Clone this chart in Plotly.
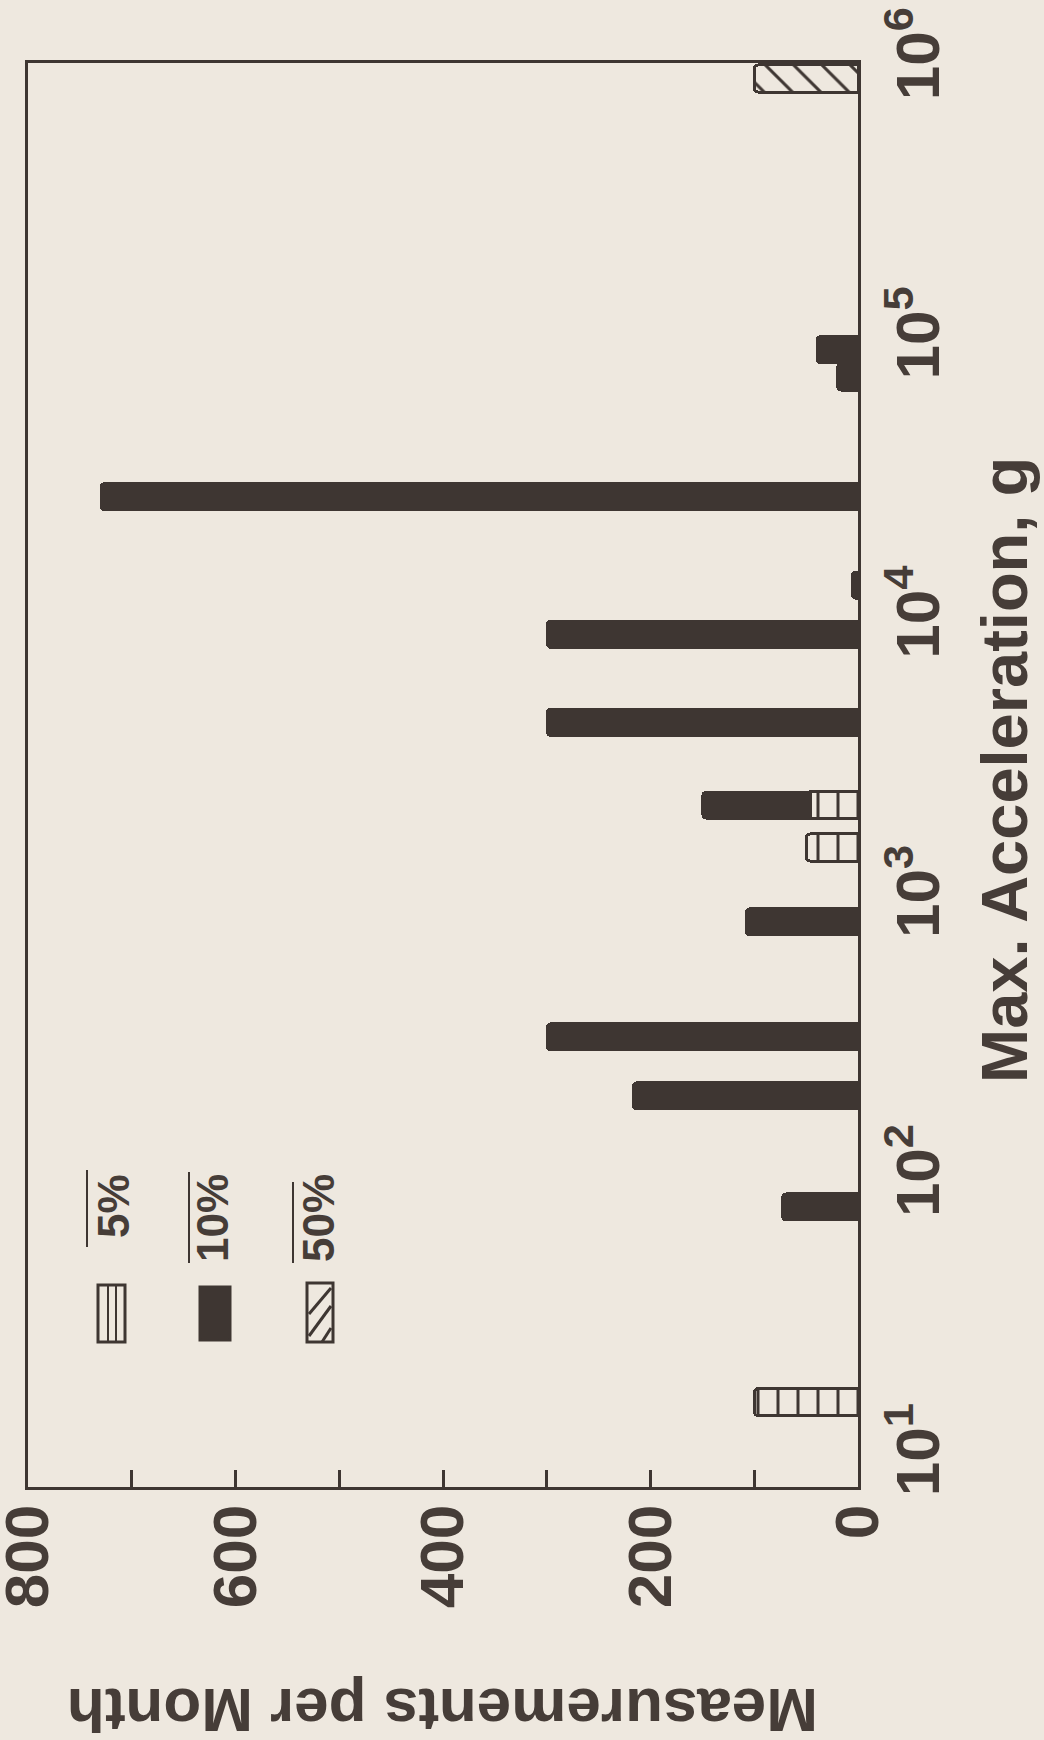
import numpy as np
import plotly.graph_objects as go

# ---- data ----
accel_5pct = [16, 1550, 2200]
count_5pct = [100, 50, 46]

accel_10pct = [80, 200, 325, 840, 2200, 4350, 9000, 13500, 28000, 75000, 94000]
count_10pct = [73, 217, 300, 108, 104, 300, 300, 6, 730, 20, 40]

accel_50pct = [880000]
count_50pct = [100]

decades = [1, 2, 3, 4, 5, 6]
decade_labels = ["10<sup>%d</sup>" % d for d in decades]
count_ticks = [0, 200, 400, 600, 800]
count_labels = ["0", "200", "400", "600", "800"]
count_minor = [100, 300, 500, 700]

legend_labels = ["5%", "10%", "50%"]

# ---- style ----
BG = "#EEE8DF"
DARK = "#3E3632"
TXT = "#463D38"
FONT = "Liberation Sans, Arial, sans-serif"
W, H = 1044, 1740
PL, PR, PT, PB = 28, 858, 63, 1487  # plot area in pixels


def px_x(px):
    return (px - PL) / (PR - PL)


def px_y(py):
    return (PB - py) / (PB - PT)


BAR_W = 0.097

fig = go.Figure()
fig.add_trace(go.Bar(
    y=np.log10(accel_5pct), x=count_5pct, orientation="h", width=BAR_W,
    marker=dict(color=BG, line=dict(color=DARK, width=3), cornerradius=4,
                pattern=dict(shape="|", size=20, solidity=0.15, fgcolor=DARK,
                             bgcolor=BG, fillmode="replace")),
    hoverinfo="skip", name="5%"))
fig.add_trace(go.Bar(
    y=np.log10(accel_10pct), x=count_10pct, orientation="h", width=BAR_W,
    marker=dict(color=DARK, line=dict(color=DARK, width=2), cornerradius=4),
    hoverinfo="skip", name="10%"))
fig.add_trace(go.Bar(
    y=np.log10(accel_50pct), x=count_50pct, orientation="h", width=BAR_W,
    marker=dict(color=BG, line=dict(color=DARK, width=3), cornerradius=4,
                pattern=dict(shape="\\", size=20, solidity=0.15, fgcolor=DARK,
                             bgcolor=BG, fillmode="replace")),
    hoverinfo="skip", name="50%"))

tickfont = dict(family=FONT, size=62, color=TXT, weight="bold")

fig.update_layout(
    width=W, height=H,
    margin=dict(l=PL, r=W - PR, t=PT, b=H - PB, pad=0),
    paper_bgcolor=BG, plot_bgcolor=BG,
    barmode="stack", showlegend=False,
    xaxis=dict(range=[800.01, 0], tickvals=count_ticks, ticktext=count_labels,
               ticks="inside", ticklen=17, tickwidth=3, tickcolor=DARK,
               minor=dict(tickvals=count_minor, ticks="inside", ticklen=17,
                          tickwidth=3, tickcolor=DARK, showgrid=False),
               showline=True, linewidth=3, linecolor=DARK, mirror=True,
               showgrid=False, zeroline=False, tickangle=-90, tickfont=tickfont,
               automargin=False, ticklabelstandoff=-10,
               ticklabeloverflow="allow"),
    yaxis=dict(range=[0.9, 6.0], tickvals=decades, ticktext=decade_labels,
               side="right", ticks="", showline=True, linewidth=3,
               linecolor=DARK, mirror=True, showgrid=False, zeroline=False,
               tickangle=-90, tickfont=tickfont, automargin=False,
               ticklabelstandoff=4, ticklabeloverflow="allow"),
)

# axis titles (rotated like the reference)
fig.add_annotation(text="Measurements per Month", textangle=180,
                   x=0.5, y=px_y(1711), xref="paper", yref="paper",
                   xanchor="center", yanchor="middle", showarrow=False,
                   font=dict(family=FONT, size=62, color=TXT, weight="bold"))
fig.add_annotation(text="Max. Acceleration, g", textangle=-90,
                   x=px_x(1004), y=px_y(770), xref="paper", yref="paper",
                   xanchor="center", yanchor="middle", showarrow=False,
                   font=dict(family=FONT, size=65, color=TXT, weight="bold"))

# ---- hand-drawn legend (rotated) ----
leg_text_cx = [113, 212, 318]
leg_over = [(87, 1170, 1247), (189, 1172, 1263), (293, 1182, 1263)]
leg_sym = [(98, 125, 1285, 1342), (200, 230, 1287, 1340), (307, 333, 1283, 1342)]

for i, lab in enumerate(legend_labels):
    fig.add_annotation(text=lab, textangle=-90, x=px_x(leg_text_cx[i]),
                       y=px_y(1172), xref="paper", yref="paper",
                       xanchor="center", yanchor="top", showarrow=False,
                       font=dict(family=FONT, size=44, color=TXT, weight="bold"))
    ox, oy0, oy1 = leg_over[i]
    fig.add_shape(type="line", xref="paper", yref="paper",
                  x0=px_x(ox), x1=px_x(ox), y0=px_y(oy0), y1=px_y(oy1),
                  line=dict(color=DARK, width=2))
    x0, x1, y0, y1 = leg_sym[i]
    fig.add_shape(type="rect", xref="paper", yref="paper",
                  x0=px_x(x0), x1=px_x(x1), y0=px_y(y0), y1=px_y(y1),
                  line=dict(color=DARK, width=3),
                  fillcolor=DARK if i == 1 else BG)

# interior lines of 5% symbol
for lx in (108, 116):
    fig.add_shape(type="line", xref="paper", yref="paper",
                  x0=px_x(lx), x1=px_x(lx), y0=px_y(1285), y1=px_y(1342),
                  line=dict(color=DARK, width=2))
# diagonal hatch of 50% symbol
for (ax, ay, bx, by) in [(309, 1336, 331, 1306), (309, 1314, 331, 1288), (322, 1342, 331, 1328)]:
    fig.add_shape(type="line", xref="paper", yref="paper",
                  x0=px_x(ax), x1=px_x(bx), y0=px_y(ay), y1=px_y(by),
                  line=dict(color=DARK, width=3))

fig.write_html(
    "out.html",
    config={"displayModeBar": False},
    post_script="document.body.style.margin='0px';"
                "document.body.style.background='%s';" % BG,
)
